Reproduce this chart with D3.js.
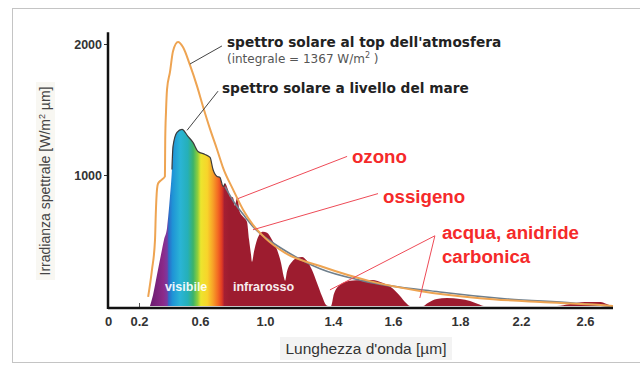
<!DOCTYPE html>
<html>
<head>
<meta charset="utf-8">
<script src="https://cdnjs.cloudflare.com/ajax/libs/d3/7.8.5/d3.min.js"></script>
<style>
  html, body { margin: 0; padding: 0; background: #fff; }
  svg { display: block; }
</style>
</head>
<body>
<div id="chart"></div>
<script>
// x tick labels as printed on the original (the axis is not linear)
const xTickValues = [0, 0.2, 0.6, 1.0, 1.4, 1.6, 1.8, 2.2, 2.6];
const yTickValues = [1000, 2000];

// spettro al top dell'atmosfera [µm, W/m2 µm]
const toaWave = [0.26, 0.285, 0.305, 0.31, 0.318, 0.325, 0.35, 0.37, 0.372, 0.377, 0.384, 0.403, 0.423, 0.456,
  0.489, 0.534, 0.58, 0.618, 0.662, 0.705, 0.742, 0.803, 0.865, 0.926, 1.0, 1.118, 1.324, 1.523, 1.68, 1.93, 2.32, 2.70, 2.78];
const toaIrr = [70, 275, 505, 700, 890, 935, 965, 990, 1270, 1480, 1655, 1785, 1945, 2015,
  1975, 1840, 1680, 1525, 1350, 1195, 1055, 890, 735, 620, 520, 405, 305, 190, 115, 60, 30, 8, 0];

// inviluppo grigio sopra le bande di assorbimento
const envWave = [0.754, 0.815, 0.877, 0.938, 1.029, 1.129, 1.324, 1.50, 1.74, 2.11, 2.525, 2.76];
const envIrr = [912, 782, 682, 590, 498, 414, 284, 192, 107, 54, 23, 0];

// spettro a livello del mare
const seaWave = [0.272, 0.292, 0.318, 0.344, 0.364, 0.384, 0.403, 0.416, 0.423, 0.449, 0.482, 0.521, 0.554, 0.587,
  0.631, 0.662, 0.68, 0.705, 0.723, 0.742, 0.754, 0.772, 0.785, 0.803, 0.815, 0.828, 0.846, 0.865, 0.889, 0.902,
  0.914, 0.92, 0.932, 0.951, 0.969, 0.988, 1.012, 1.041, 1.071, 1.094, 1.112, 1.118, 1.129, 1.159, 1.188, 1.218,
  1.247, 1.276, 1.306, 1.335, 1.359, 1.371, 1.388, 1.403, 1.423, 1.457, 1.497, 1.53, 1.567, 1.597, 1.621, 1.639,
  1.651, 1.69, 1.704, 1.731, 1.761, 1.80, 1.866, 1.918, 1.957, 2.425, 2.506, 2.60, 2.70, 2.74, 2.77];
const seaIrr = [0, 84, 238, 391, 506, 598, 835, 1042, 1218, 1326, 1349, 1295, 1249, 1180,
  1157, 1134, 1042, 989, 981, 912, 935, 889, 835, 828, 766, 828, 713, 682, 644, 506,
  391, 337, 414, 506, 552, 567, 559, 506, 429, 330, 215, 192, 261, 337, 368, 375,
  345, 276, 176, 77, 8, 0, 0, 92, 161, 192, 199, 199, 176, 138, 77, 23,
  0, 0, 23, 54, 61, 54, 38, 15, 0, 0, 15, 31, 31, 15, 0];

// colori dello spettro visibile
const specWave = [0.27, 0.36, 0.385, 0.395, 0.42, 0.47, 0.52, 0.555, 0.585, 0.605, 0.645, 0.68, 0.71, 0.735, 0.75, 0.78];
const specColor = ["#6a1b6e", "#8b2a8a", "#7a3aa0", "#2c6cc8", "#1f93d6", "#2ab4d6", "#25b0b8", "#3cb36a",
  "#8fcf3c", "#ece52e", "#f8d42a", "#f7a028", "#f36a22", "#e03a24", "#a51f33", "#9d1c2f"];

const width = 640, height = 369;

const svg = d3.select("#chart").append("svg")
  .attr("width", width)
  .attr("height", height);

const x = d3.scaleLinear()
  .domain([...xTickValues, 2.78])
  .range([108, 139, 200, 265, 333, 393, 460, 521, 585, 613]);

const y = d3.scaleLinear()
  .domain([0, 2000])
  .range([306, 44]);

const toa = toaWave.map((w, i) => [w, toaIrr[i]]);
const env = envWave.map((w, i) => [w, envIrr[i]]);
const sea = seaWave.map((w, i) => [w, seaIrr[i]]);

// frame + soft label boxes
svg.append("rect")
  .attr("x", 12.5).attr("y", 8.5)
  .attr("width", 700).attr("height", 354)
  .attr("fill", "none").attr("stroke", "#c4c4c4");

svg.append("rect")
  .attr("x", 280).attr("y", 337).attr("width", 172).attr("height", 23)
  .attr("fill", "#f3f3f3");

svg.append("rect")
  .attr("x", 36).attr("y", 82).attr("width", 19).attr("height", 198)
  .attr("fill", "#f8f7f2");

// gradient for the sea level area
const defs = svg.append("defs");
const x0 = x(specWave[0]), x1 = x(specWave[specWave.length - 1]);
const grad = defs.append("linearGradient")
  .attr("id", "spec")
  .attr("gradientUnits", "userSpaceOnUse")
  .attr("x1", x0).attr("x2", x1)
  .attr("y1", 0).attr("y2", 0);
grad.selectAll("stop")
  .data(specWave)
  .join("stop")
  .attr("offset", d => (x(d) - x0) / (x1 - x0))
  .attr("stop-color", (d, i) => specColor[i]);

const chartGroup = svg.append("g");

const area = d3.area()
  .x(d => x(d[0]))
  .y0(y(0))
  .y1(d => y(d[1]))
  .curve(d3.curveMonotoneX);

chartGroup.append("path")
  .datum(sea)
  .attr("d", area)
  .attr("fill", "url(#spec)");

const line = d3.line()
  .x(d => x(d[0]))
  .y(d => y(d[1]))
  .curve(d3.curveMonotoneX);

// dark outline on top of the visible part
chartGroup.append("path")
  .datum(sea.filter(d => d[0] >= 0.416 && d[0] <= 0.76))
  .attr("d", line)
  .attr("fill", "none")
  .attr("stroke", "#3b3b3b")
  .attr("stroke-width", 1.2);

chartGroup.append("path")
  .datum(env)
  .attr("d", line)
  .attr("fill", "none")
  .attr("stroke", "#6f7f8c")
  .attr("stroke-width", 1.6);

chartGroup.append("path")
  .datum(toa)
  .attr("d", line)
  .attr("fill", "none")
  .attr("stroke", "#eea452")
  .attr("stroke-width", 2);

// axes
const xAxis = chartGroup.append("g")
  .attr("transform", `translate(0, ${y(0) + 2})`)
  .call(d3.axisBottom(x).tickValues(xTickValues).tickFormat(d => d === 0 ? "0" : d3.format(".1f")(d))
    .tickSizeInner(-5).tickSizeOuter(0).tickPadding(8));
xAxis.select(".domain").remove();
xAxis.selectAll(".tick line")
  .attr("stroke", "#555")
  .attr("opacity", d => d === 0.2 ? 1 : 0);
xAxis.selectAll(".tick text")
  .attr("y", 9)
  .style("font-family", "'Liberation Sans', Arial, sans-serif")
  .style("font-weight", "bold")
  .style("font-size", "13px")
  .style("fill", "#333");

const yAxis = chartGroup.append("g")
  .attr("transform", `translate(${x(0)}, 0)`)
  .call(d3.axisLeft(y).tickValues(yTickValues).tickFormat(d3.format("d"))
    .tickSizeInner(4).tickSizeOuter(0).tickPadding(2));
yAxis.select(".domain").remove();
yAxis.selectAll(".tick line").attr("stroke", "#333");
yAxis.selectAll(".tick text")
  .style("font-family", "'Liberation Sans', Arial, sans-serif")
  .style("font-weight", "bold")
  .style("font-size", "12.5px")
  .style("fill", "#333");

chartGroup.append("line")
  .attr("x1", x(0)).attr("x2", x(2.78))
  .attr("y1", y(0) + 2).attr("y2", y(0) + 2)
  .attr("stroke", "#111").attr("stroke-width", 2.5);

chartGroup.append("line")
  .attr("x1", x(0)).attr("x2", x(0))
  .attr("y1", y(0) + 3).attr("y2", y(2090))
  .attr("stroke", "#111").attr("stroke-width", 2.5);

// axis titles
svg.append("text")
  .attr("x", 366).attr("y", 354)
  .attr("text-anchor", "middle")
  .style("font-family", "'Liberation Sans', Arial, sans-serif")
  .style("font-size", "15.5px")
  .style("fill", "#333")
  .text("Lunghezza d'onda [µm]");

const yTitle = svg.append("text")
  .attr("transform", "translate(50, 181) rotate(-90)")
  .attr("text-anchor", "middle")
  .style("font-family", "'Liberation Sans', Arial, sans-serif")
  .style("font-size", "14px")
  .style("fill", "#444");
yTitle.append("tspan").text("Irradianza spettrale [W/m");
yTitle.append("tspan").attr("dy", -5).style("font-size", "9px").text("2");
yTitle.append("tspan").attr("dy", 5).text(" µm]");

// annotations (placed in data units)
const leaders = [
  { from: [0.735, 1985], to: [0.534, 1847], color: "#444" },
  { from: [0.711, 1640], to: [0.515, 1341], color: "#444" },
  { from: [1.447, 1142], to: [0.834, 820], color: "#ee4b57" },
  { from: [1.55, 858], to: [0.926, 582], color: "#ee4b57" },
  { from: [1.725, 536], to: [1.382, 123], color: "#ee4b57" },
  { from: [1.725, 536], to: [1.68, 61], color: "#ee4b57" }
];
chartGroup.selectAll(".leader")
  .data(leaders)
  .join("line")
  .attr("class", "leader")
  .attr("x1", d => x(d.from[0])).attr("y1", d => y(d.from[1]))
  .attr("x2", d => x(d.to[0])).attr("y2", d => y(d.to[1]))
  .attr("stroke", d => d.color)
  .attr("stroke-width", 1);

const blackNotes = [
  { text: "spettro solare al top dell'atmosfera", at: [0.766, 1977] },
  { text: "spettro solare a livello del mare", at: [0.735, 1625] }
];
chartGroup.selectAll(".bnote")
  .data(blackNotes)
  .join("text")
  .attr("class", "bnote")
  .attr("x", d => x(d.at[0])).attr("y", d => y(d.at[1]))
  .style("font-family", "'DejaVu Sans', sans-serif")
  .style("font-weight", "bold")
  .style("font-size", "13.7px")
  .style("fill", "#222")
  .text(d => d.text);

const integ = chartGroup.append("text")
  .attr("x", x(0.766)).attr("y", y(1854))
  .style("font-family", "'DejaVu Sans', sans-serif")
  .style("font-size", "12px")
  .style("fill", "#555");
integ.append("tspan").text("(integrale = 1367 W/m");
integ.append("tspan").attr("dy", -5).style("font-size", "8px").text("2");
integ.append("tspan").attr("dy", 5).text(" )");

const redNotes = [
  { text: "ozono", at: [1.463, 1088] },
  { text: "ossigeno", at: [1.567, 789] },
  { text: "acqua, anidride", at: [1.746, 513] },
  { text: "carbonica", at: [1.746, 330] }
];
chartGroup.selectAll(".rnote")
  .data(redNotes)
  .join("text")
  .attr("class", "rnote")
  .attr("x", d => x(d.at[0])).attr("y", d => y(d.at[1]))
  .style("font-family", "'Liberation Sans', Arial, sans-serif")
  .style("font-weight", "bold")
  .style("font-size", "18.7px")
  .style("fill", "#f52a2a")
  .text(d => d.text);

const bandNotes = [
  { text: "visibile", at: [0.37, 115] },
  { text: "infrarosso", at: [0.803, 115] }
];
chartGroup.selectAll(".band")
  .data(bandNotes)
  .join("text")
  .attr("class", "band")
  .attr("x", d => x(d.at[0])).attr("y", d => y(d.at[1]))
  .style("font-family", "'Liberation Sans', Arial, sans-serif")
  .style("font-weight", "bold")
  .style("font-size", "12.5px")
  .style("fill", "#fff")
  .style("opacity", 0.92)
  .text(d => d.text);
</script>
</body>
</html>
